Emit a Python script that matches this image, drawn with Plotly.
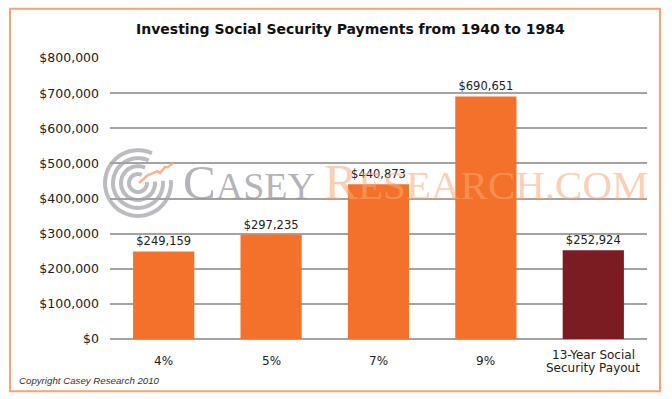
import math
import plotly.graph_objects as go

# ---- data ----
categories = ["4%", "5%", "7%", "9%", "13-Year Social<br>Security Payout"]
values = [249159, 297235, 440873, 690651, 252924]
bar_colors = ["#F4712B", "#F4712B", "#F4712B", "#F4712B", "#7B1B22"]
y_ticks = [0, 100000, 200000, 300000, 400000, 500000, 600000, 700000, 800000]
y_tick_text = ["$0", "$100,000", "$200,000", "$300,000", "$400,000",
               "$500,000", "$600,000", "$700,000", "$800,000"]
title_text = "Investing Social Security Payments from 1940 to 1984"
copyright_text = "Copyright Casey Research 2010"

W, H = 672, 399
L, R, T, B = 110, 25, 57.5, 59.5
PW, PH = W - L - R, H - T - B


def px(x):
    return (x - L) / PW


def py(y):
    return (H - B - y) / PH


fig = go.Figure()
fig.add_trace(go.Bar(
    x=categories, y=values,
    marker=dict(color=bar_colors, line=dict(width=0)),
    texttemplate="$%{y:,}", textposition="outside", cliponaxis=False,
    textfont=dict(family="DejaVu Sans", size=11.5, color="#222222"),
    hoverinfo="skip",
))

shapes = []
# outer frame
shapes.append(dict(type="rect", xref="paper", yref="paper",
                   x0=px(10), x1=px(660), y0=py(392), y1=py(8),
                   line=dict(color="#F9A272", width=2), layer="above"))

# watermark logo: concentric open rings
cx, cy = 138, 183
for r in [33, 25, 17, 9]:
    pts = []
    for i in range(0, 61):
        a = math.radians(65 + (300) * i / 60)
        pts.append((px(cx + r * math.cos(a)), py(cy - r * math.sin(a))))
    path = "M " + " L ".join(f"{x:.5f},{y:.5f}" for x, y in pts)
    shapes.append(dict(type="path", xref="paper", yref="paper", path=path,
                       line=dict(color="rgba(160,160,165,0.7)", width=4),
                       layer="above"))
arrow = [(139, 183), (148, 175), (153, 173), (157, 171), (160, 173),
         (165, 167), (168, 167), (174, 162)]
shapes.append(dict(type="path", xref="paper", yref="paper",
                   path="M " + " L ".join(f"{px(x):.5f},{py(y):.5f}" for x, y in arrow),
                   line=dict(color="rgba(248,160,110,0.8)", width=2.5),
                   layer="above"))

annotations = [
    dict(text=f"<b>{title_text}</b>", xref="paper", yref="paper",
         x=px(350.5), y=py(28), xanchor="center", yanchor="middle",
         showarrow=False, font=dict(family="DejaVu Sans", size=14, color="#111111")),
    dict(text=copyright_text, xref="paper", yref="paper",
         x=px(17), y=py(381), xanchor="left", yanchor="middle",
         showarrow=False,
         font=dict(family="Liberation Sans", size=9.7, color="#333333", style="italic")),
    dict(text="C<span style='font-size:38px'>ASEY</span>", xref="paper", yref="paper",
         x=px(181), y=py(182), xanchor="left", yanchor="middle", showarrow=False,
         font=dict(family="Liberation Serif", size=49, color="rgba(150,150,158,0.72)")),
    dict(text="R<span style='font-size:41px'>ESEARCH.COM</span>", xref="paper", yref="paper",
         x=px(322), y=py(182), xanchor="left", yanchor="middle", showarrow=False,
         font=dict(family="Liberation Serif", size=51, color="rgba(250,168,118,0.55)")),
]

# category labels, vertically centred under each bar
for cat in categories:
    lines = cat.split("<br>")
    n = len(lines)
    for i, line in enumerate(lines):
        annotations.append(dict(
            text=line, xref="x", yref="paper", x=cat,
            y=py(362 + (i - (n - 1) / 2) * 12.5),
            xanchor="center", yanchor="middle", showarrow=False,
            font=dict(family="DejaVu Sans", size=12, color="#222222")))

fig.update_layout(
    width=W, height=H,
    margin=dict(l=L, r=R, t=T, b=B),
    paper_bgcolor="white", plot_bgcolor="white",
    showlegend=False,
    bargap=0.43,
    shapes=shapes,
    annotations=annotations,
    xaxis=dict(showgrid=False, showline=False, ticks="", zeroline=False,
               showticklabels=False, fixedrange=True),
    yaxis=dict(range=[0, 800000], tickvals=y_ticks, ticktext=y_tick_text,
               showgrid=True, gridcolor="#A3A3A3", gridwidth=2,
               zeroline=True, zerolinecolor="#A3A3A3", zerolinewidth=2,
               showline=False, ticks="", ticklabelstandoff=10,
               tickfont=dict(family="DejaVu Sans", size=12.5, color="#222222"),
               fixedrange=True),
)

fig.write_html("out.html", config={"displayModeBar": False},
               post_script="document.body.style.margin='0';document.body.style.overflow='hidden';")
